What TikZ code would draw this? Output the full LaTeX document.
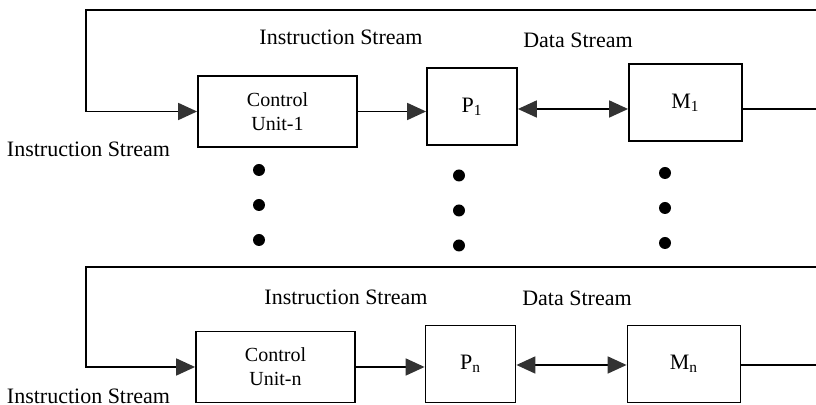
\documentclass[tikz,border=0pt]{standalone}
\usepackage{fontspec}
\setmainfont{Liberation Serif}
\usetikzlibrary{positioning,arrows.meta}

\begin{document}
\begin{tikzpicture}[x=0.5pt,y=-0.5pt,
		line width=0.9pt,
		arr/.style={-{Triangle[length=9.5pt,width=8.5pt,color=black!80]}},
		darr/.style={{Triangle[length=9.5pt,width=8.5pt,color=black!80]}-{Triangle[length=9.5pt,width=8.5pt,color=black!80]}},
		unitbox/.style={draw,minimum width=79.5pt,minimum height=35.5pt,align=center,font=\fontsize{10}{12}\selectfont,inner sep=0pt},
		pbox/.style={draw,minimum width=45pt,minimum height=38.5pt,font=\fontsize{11}{13}\selectfont,inner sep=0pt},
		mbox/.style={draw,minimum width=56.5pt,minimum height=38.5pt,font=\fontsize{11}{13}\selectfont,inner sep=0pt},
		lbl/.style={font=\fontsize{11}{13}\selectfont,inner sep=0pt},
		dot/.style={circle,fill,inner sep=0pt,minimum size=6pt}]
		\useasboundingbox (0,0) rectangle (816,405);

		% first row
		\node[unitbox] (cu1) at (277.5,111.5) {Control\\Unit-1};
		\node[pbox] (p1) at (472,106.5) {P\textsubscript{1}};
		\node[mbox] (m1) at (685.5,102.5) {M\textsubscript{1}};
		\coordinate (topR1) at (816,10);
		\coordinate (topL1) at (86,10);
		\coordinate (outR1) at (816,109);
		\draw[arr] (topR1) -- (topL1) -- (topL1 |- cu1.west) -- (cu1.west);
		\draw[arr] (cu1.east) -- (cu1.east -| p1.west);
		\draw[darr] (p1.east |- 0,109) -- (m1.west |- 0,109);
		\draw (m1.east |- outR1) -- (outR1);
		\node[lbl] (is1) at (341,37) {Instruction Stream};
		\node[lbl] (ds1) at (578,40) {Data Stream};
		\node[lbl] (isl1) at (88.5,149) {Instruction Stream};

		% dots
		\foreach \y [count=\i] in {170,205,240} {
			\node[dot] (da\i) at (259,\y) {};
			\node[dot] (db\i) at (459,\y+5.5) {};
			\node[dot] (dc\i) at (665,\y+3) {};
		}

		% last row
		\node[unitbox] (cun) at (275.5,367) {Control\\Unit-n};
		\node[pbox] (pn) at (470.5,364) {P\textsubscript{n}};
		\node[mbox] (mn) at (684,364) {M\textsubscript{n}};
		\coordinate (topR2) at (816,267);
		\coordinate (topL2) at (86,267);
		\coordinate (outR2) at (816,365);
		\draw[arr] (topR2) -- (topL2) -- (topL2 |- cun.west) -- (cun.west);
		\draw[arr] (cun.east) -- (cun.east -| pn.west);
		\draw[darr] (pn.east |- 0,365) -- (mn.west |- 0,365);
		\draw (mn.east |- outR2) -- (outR2);
		\node[lbl] (is2) at (346,297) {Instruction Stream};
		\node[lbl] (ds2) at (577,298) {Data Stream};
		\node[lbl] (isl2) at (88.5,396) {Instruction Stream};
	\end{tikzpicture}
\end{document}
